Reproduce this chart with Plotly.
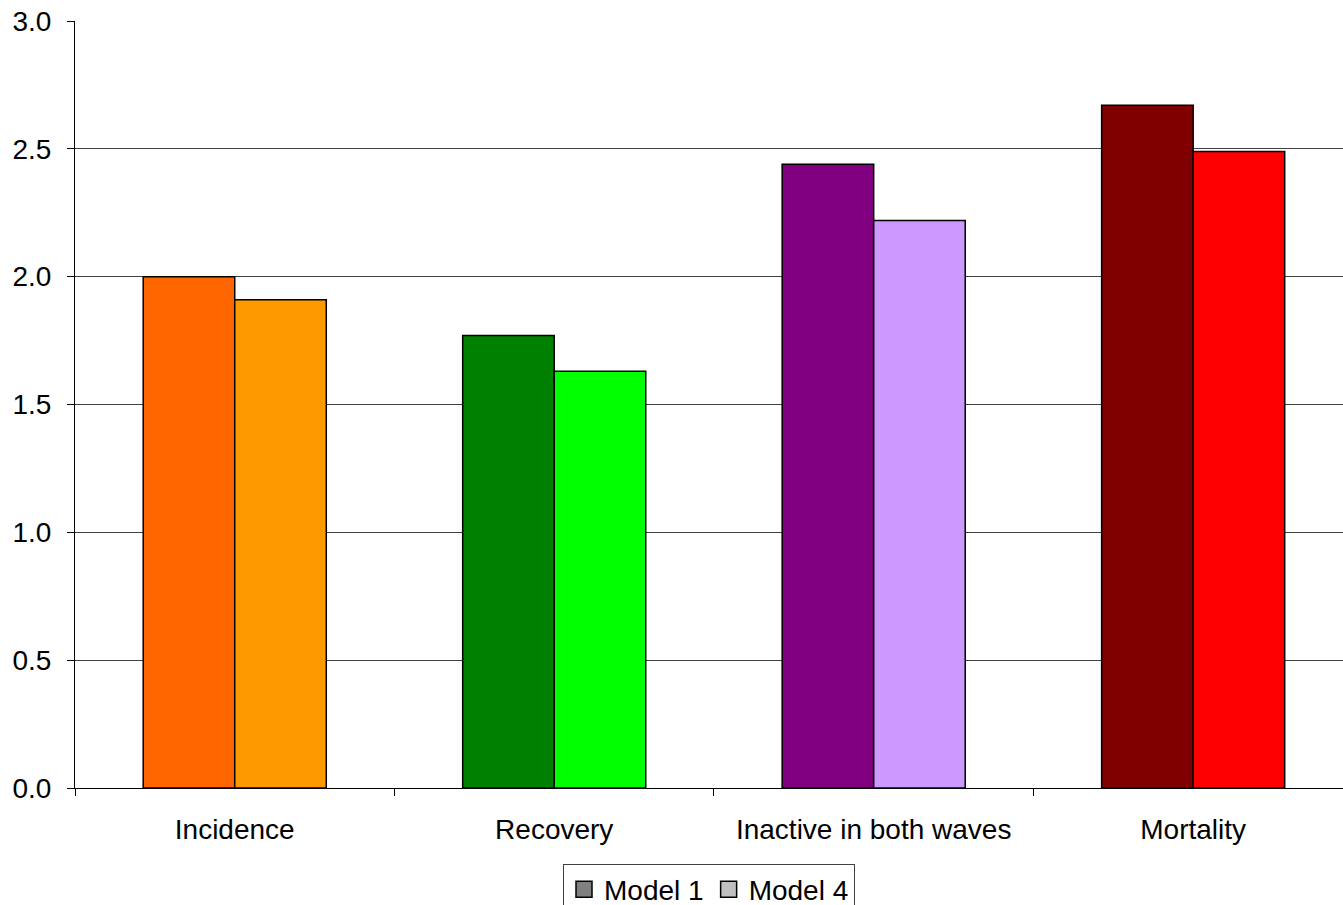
import plotly.graph_objects as go

categories = ["Incidence", "Recovery", "Inactive in both waves", "Mortality"]
model1 = [2.00, 1.77, 2.44, 2.67]
model4 = [1.91, 1.63, 2.22, 2.49]
model1_colors = ["#FF6600", "#008000", "#800080", "#800000"]
model4_colors = ["#FF9900", "#00FF00", "#CC99FF", "#FF0000"]
legend_names = ["Model 1", "Model 4"]
legend_colors = ["#808080", "#C0C0C0"]
y_ticks = [0.0, 0.5, 1.0, 1.5, 2.0, 2.5, 3.0]

FONT = "Liberation Sans, Arial, sans-serif"

fig = go.Figure()
fig.add_trace(go.Bar(x=categories, y=model1, name=legend_names[0], showlegend=False,
                     marker=dict(color=model1_colors, line=dict(color="black", width=1.5))))
fig.add_trace(go.Bar(x=categories, y=model4, name=legend_names[1], showlegend=False,
                     marker=dict(color=model4_colors, line=dict(color="black", width=1.5))))
for n, c in zip(legend_names, legend_colors):
    fig.add_trace(go.Scatter(x=[None], y=[None], mode="markers", name=n,
                             marker=dict(symbol="square", size=16, color=c,
                                         line=dict(color="black", width=1.5))))

fig.update_layout(
    width=1343, height=905,
    margin=dict(l=75, r=0, t=21, b=117, autoexpand=False),
    paper_bgcolor="white", plot_bgcolor="white",
    barmode="group", bargap=0.427, bargroupgap=0,
    font=dict(family=FONT, size=28, color="black"),
    showlegend=True,
    legend=dict(orientation="h", x=0.5, xanchor="center", y=-0.0985, yanchor="top",
                bordercolor="#404040", borderwidth=1, font=dict(size=28),
                itemsizing="trace", tracegroupgap=0, itemwidth=30),
)
fig.update_xaxes(
    type="category", range=[-0.5, 3.469], automargin=False,
    showline=True, linecolor="black", linewidth=1,
    ticks="outside", tickson="boundaries", ticklen=7, tickcolor="black",
    showgrid=False, ticklabelstandoff=16,
)
fig.update_yaxes(
    range=[0, 3.0], tickvals=y_ticks, ticktext=[f"{v:.1f}" for v in y_ticks],
    automargin=False,
    showline=True, linecolor="black", linewidth=1,
    ticks="outside", ticklen=7, tickcolor="black", ticklabelstandoff=10,
    showgrid=True, gridcolor="#404040", gridwidth=1,
    zeroline=False,
)

fig.write_html("out.html", config={"displayModeBar": False},
               post_script="document.body.style.margin='0';document.body.style.overflow='hidden';")
